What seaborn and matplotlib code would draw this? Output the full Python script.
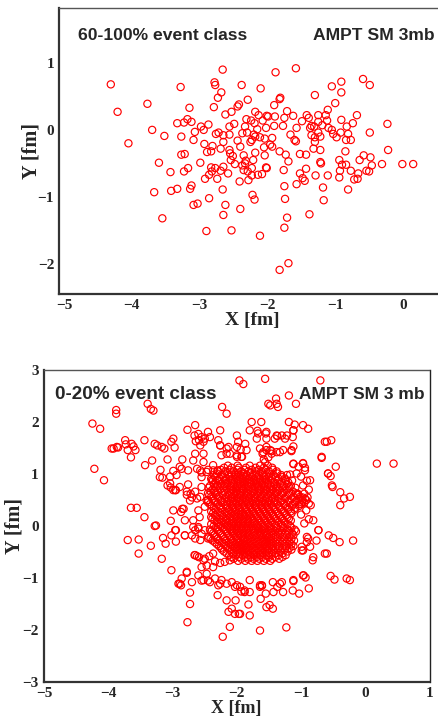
import numpy as np
import pandas as pd
import matplotlib
matplotlib.use("Agg")
import matplotlib.pyplot as plt
import seaborn as sns
from matplotlib.ticker import MultipleLocator

# ---- data: participant positions (x, y) in fm ----
peripheral_pts = [
    (-4.31, 0.68), (-4.21, 0.27), (-4.05, -0.20), (-3.77, 0.39), (-3.70, 0.00), (-3.52, -0.09),
    (-3.60, -0.49), (-3.43, -0.63), (-3.67, -0.93), (-3.55, -1.32), (-3.42, -0.91), (-3.33, -0.88),
    (-3.28, 0.64), (-3.15, 0.33), (-3.33, 0.10), (-3.27, -0.10), (-3.23, 0.11), (-3.18, 0.16),
    (-3.12, 0.12), (-3.07, -0.03), (-3.09, -0.15), (-2.98, 0.05), (-2.94, 0.00), (-2.87, 0.08),
    (-3.27, -0.37), (-3.22, -0.36), (-3.23, -0.62), (-3.17, -0.57), (-2.99, -0.49), (-3.12, -0.83),
    (-3.14, -0.88), (-3.09, -1.12), (-3.03, -1.10), (-2.86, -1.02), (-2.92, -0.73), (-2.86, -0.67),
    (-2.83, -0.56), (-2.82, -0.62), (-2.74, -0.73), (-2.77, -0.57), (-2.69, -0.61), (-2.65, -0.55),
    (-2.58, -0.65), (-2.66, -0.89), (-2.62, -1.12), (-2.65, -1.27), (-2.90, -1.51), (-2.53, -1.50),
    (-2.40, -1.18), (-2.41, -0.77), (-2.28, -0.75), (-2.29, -0.62), (-2.35, -0.60), (-2.33, -0.50),
    (-2.23, -0.57), (-2.22, -0.97), (-2.19, -1.04), (-2.11, -1.58), (-2.66, 0.90), (-2.78, 0.71),
    (-2.77, 0.67), (-2.68, 0.56), (-2.73, 0.48), (-2.79, 0.34), (-2.38, 0.67), (-2.10, 0.62),
    (-2.29, 0.45), (-2.42, 0.38), (-2.44, 0.35), (-2.53, 0.27), (-2.62, 0.23), (-2.49, 0.09),
    (-2.56, 0.05), (-2.76, -0.06), (-2.72, -0.04), (-2.65, -0.08), (-2.56, -0.07), (-2.65, -0.18),
    (-2.81, -0.24), (-2.93, -0.21), (-2.83, -0.32), (-2.89, -0.33), (-2.69, -0.28), (-2.56, -0.30),
    (-2.55, -0.35), (-2.51, -0.39), (-2.54, -0.45), (-2.48, -0.51), (-2.40, -0.25), (-2.44, -0.16),
    (-2.35, -0.38), (-2.30, -0.04), (-2.33, 0.05), (-2.37, -0.05), (-2.31, 0.16), (-2.24, 0.14),
    (-2.18, 0.27), (-2.13, 0.22), (-2.19, 0.10), (-2.15, 0.01), (-2.20, -0.07), (-2.23, -0.15),
    (-2.25, -0.18), (-2.18, -0.10), (-2.11, -0.11), (-2.18, -0.34), (-2.21, -0.45), (-2.05, -0.26),
    (-2.04, -0.38), (-2.02, -0.56), (-2.14, -0.67), (-2.08, -0.66), (-2.01, 0.21), (-2.02, 0.03),
    (-2.04, -0.13), (-2.07, 0.14), (-2.37, -0.53), (-2.32, -0.46), (-2.23, -0.68),
    (-1.88, 0.86), (-1.58, 0.92), (-0.59, 0.76), (-0.49, 0.67), (-0.91, 0.72), (-0.91, 0.56),
    (-1.05, 0.65), (-1.30, 0.52), (-1.81, 0.48), (-1.82, 0.46), (-1.90, 0.37), (-1.71, 0.28),
    (-1.75, 0.18), (-1.99, 0.20), (-1.89, 0.20), (-1.90, 0.06), (-1.77, 0.06), (-1.62, 0.21),
    (-1.57, 0.03), (-1.49, 0.13), (-1.42, 0.22), (-1.39, 0.18), (-1.25, 0.22), (-1.11, 0.30),
    (-1.00, 0.40), (-1.14, 0.22), (-1.12, 0.14), (-1.25, 0.12), (-1.35, 0.06), (-1.37, 0.03),
    (-1.31, 0.05), (-1.19, 0.07), (-1.10, 0.03), (-1.25, -0.04), (-1.35, -0.08), (-1.30, -0.11),
    (-1.22, -0.10), (-1.30, -0.18), (-1.32, -0.28), (-1.22, -0.30), (-1.05, 0.00), (-1.03, -0.06),
    (-0.98, -0.11), (-0.91, 0.15), (-0.83, 0.05), (-0.74, 0.10), (-0.68, 0.22), (-0.92, -0.04),
    (-0.81, -0.06), (-0.77, -0.15), (-0.84, -0.15), (-0.85, -0.32), (-0.49, -0.04), (-0.23, 0.09),
    (-0.22, -0.30), (-1.66, -0.07), (-1.60, -0.15), (-1.58, -0.17), (-1.93, -0.12), (-1.96, -0.22),
    (-1.93, -0.25), (-1.82, -0.32), (-1.73, -0.37), (-1.69, -0.47), (-1.52, -0.36), (-1.43, -0.37),
    (-2.01, -0.57), (-1.76, -0.60), (-1.52, -0.65), (-1.43, -0.58), (-1.48, -0.72), (-1.45, -0.76),
    (-1.57, -0.81), (-1.75, -0.84), (-1.74, -1.03), (-1.29, -0.68), (-1.22, -0.48), (-1.21, -0.50),
    (-1.11, -0.68), (-1.18, -0.86), (-1.17, -1.05), (-1.38, -1.26), (-1.71, -1.31), (-1.75, -1.46),
    (-0.94, -0.45), (-0.90, -0.52), (-0.84, -0.52), (-0.93, -0.61), (-0.77, -0.61), (-0.94, -0.71),
    (-0.72, -0.74), (-0.67, -0.73), (-0.64, -0.45), (-0.58, -0.38), (-0.48, -0.41), (-0.46, -0.53),
    (-0.54, -0.61), (-0.50, -0.62), (-0.66, -0.65), (-0.31, -0.51), (-0.81, -0.89), (-0.01, -0.51),
    (0.15, -0.51), (-1.69, -1.99), (-1.82, -2.09),
]

central_outer_pts = [
    (-1.96, 2.80), (-1.90, 2.73), (-3.39, 2.35), (-3.34, 2.25), (-3.30, 2.22), (-3.88, 2.23),
    (-3.88, 2.16), (-4.25, 1.97), (-4.13, 1.87), (-2.23, 2.29), (-2.16, 2.16), (-2.65, 1.94),
    (-2.77, 1.85), (-2.66, 1.74), (-2.60, 1.77), (-2.55, 1.71), (-2.59, 1.65), (-2.52, 1.62),
    (-2.45, 1.81), (-2.42, 1.71), (-2.50, 1.68), (-2.64, 1.63), (-2.57, 1.55), (-2.29, 1.65),
    (-2.26, 1.55), (-2.16, 1.49), (-2.16, 1.39), (-2.00, 1.74), (-1.98, 1.62), (-1.94, 1.47),
    (-2.00, 1.36), (-1.92, 1.33), (-2.99, 1.68), (-3.02, 1.62), (-2.97, 1.51), (-3.28, 1.58),
    (-3.24, 1.55), (-3.13, 1.49), (-3.17, 1.52), (-3.44, 1.65), (-3.74, 1.65), (-3.73, 1.57),
    (-3.70, 1.46), (-3.65, 1.32), (-3.61, 1.53), (-3.58, 1.46), (-3.64, 1.58), (-3.85, 1.51),
    (-3.92, 1.49), (-3.95, 1.49), (-3.87, 1.52), (-4.22, 1.10), (-4.07, 0.88), (-3.32, 1.26),
    (-3.43, 1.17), (-3.08, 1.28), (-2.85, 1.28), (-2.86, 1.10), (-3.19, 1.08), (-3.20, 0.94),
    (-3.16, 0.93), (-3.04, 0.95), (-3.08, 0.78), (-3.03, 0.74), (-2.99, 0.69), (-2.95, 0.69),
    (-2.99, 1.06), (-2.62, 1.10), (-2.55, 1.03), (-2.45, 1.08), (-2.55, 0.94), (-2.39, 0.88),
    (-2.76, 0.80), (-2.72, 0.62), (-2.70, 0.55), (-2.62, 0.53), (-2.78, 0.60), (-3.65, 0.35),
    (-3.56, 0.35), (-3.44, 0.17), (-3.26, 0.01), (-2.85, 0.33), (-2.87, 0.27), (-3.03, 0.10),
    (-2.58, 0.17), (-2.68, -0.02), (-2.60, -0.02), (-2.30, 1.07), (-2.35, 0.68), (-2.45, 0.50),
    (-2.50, 0.37), (-2.40, 0.17), (-2.29, -0.02),
    (-1.56, 2.83), (-0.70, 2.80), (-1.19, 2.51), (-1.39, 2.45), (-1.38, 2.35), (-1.51, 2.35),
    (-1.48, 2.32), (-1.36, 2.29), (-1.08, 2.35), (-1.77, 2.00), (-1.62, 2.00), (-1.80, 1.84),
    (-1.68, 1.83), (-1.55, 1.78), (-1.54, 1.68), (-1.41, 1.68), (-1.37, 1.73), (-1.30, 1.74),
    (-1.25, 1.68), (-1.19, 2.00), (-1.12, 1.84), (-1.10, 1.95), (-0.97, 1.94), (-0.89, 1.87),
    (-1.13, 1.71), (-0.63, 1.62), (-0.53, 1.65), (-0.68, 1.31), (-0.46, 1.14), (0.18, 1.20),
    (0.44, 1.20), (-1.12, 1.53), (-1.15, 1.44), (-1.64, 1.49), (-1.54, 1.46), (-1.46, 1.44),
    (-1.33, 1.42), (-1.60, 1.39), (-1.51, 1.32), (-1.58, 1.28), (-1.56, 1.23), (-0.58, 1.01),
    (-0.54, 0.96), (-0.52, 0.78), (-0.51, 0.75), (-0.39, 0.65), (-0.33, 0.53), (-0.24, 0.56),
    (-0.39, 0.40), (-0.97, 1.21), (-0.94, 1.12), (-1.04, 1.14), (-1.12, 1.19), (-1.17, 0.99),
    (-1.00, 0.95), (-0.91, 0.87), (-0.97, 0.78), (-0.88, 0.70), (-1.05, 0.62), (-0.90, 0.55),
    (-0.95, 0.45), (-0.85, 0.40), (-0.92, 0.30), (-1.00, 0.22), (-0.88, 0.13), (-0.95, 0.05),
    (-0.73, -0.08), (-0.57, -0.18), (-0.50, -0.23), (-0.40, -0.31), (-0.19, -0.28), (-0.63, -0.53),
    (-0.60, -0.53), (-0.82, -0.66), (-0.99, -0.40), (-0.99, -0.47), (-0.89, -0.24), (-0.91, -0.31),
    (-0.76, -0.28), (-0.54, -0.96), (-0.48, -1.03), (-0.29, -1.01), (-0.24, -1.04), (-0.96, -0.95),
    (-0.93, -0.99), (-0.88, -1.20), (-1.03, -1.30), (-1.13, -1.24), (-1.28, -1.27), (-1.43, -1.27),
    (-1.55, -1.30), (-1.64, -1.14), (-1.61, -1.15), (-1.80, -1.27), (-1.88, -1.27), (-1.93, -1.26),
    (-1.12, -1.06), (-1.30, -1.08), (-1.37, -1.17), (-1.44, -1.08), (-1.64, -1.17), (-1.63, -1.40),
    (-1.82, -1.51), (-1.54, -1.56), (-1.49, -1.52), (-1.44, -1.59), (-1.80, -1.72), (-1.95, -1.69),
    (-1.64, -2.01), (-1.23, -1.95),
    (-3.28, 0.00), (-3.70, -0.27), (-3.53, -0.26), (-3.53, -0.53), (-3.34, -0.38), (-3.15, -0.23),
    (-3.11, -0.34), (-3.02, -0.18), (-2.95, -0.30), (-2.95, -0.08), (-3.17, -0.63), (-3.02, -0.85),
    (-2.81, -0.18), (-2.78, -0.90), (-2.86, -1.01), (-2.89, -1.11), (-2.87, -1.14), (-2.70, -1.08),
    (-2.73, -1.28), (-2.73, -1.50), (-2.77, -1.85), (-2.70, -0.18), (-2.65, -0.24), (-2.60, -0.05),
    (-2.55, -0.15), (-2.45, -0.24), (-2.50, -0.08), (-2.66, -0.56), (-2.62, -0.58), (-2.59, -0.60),
    (-2.50, -0.63), (-2.43, -0.58), (-2.37, -0.53), (-2.55, -0.79), (-2.47, -0.76), (-2.34, -0.68),
    (-2.26, -0.71), (-2.19, -0.69), (-2.11, -0.66), (-2.60, -0.95), (-2.55, -1.05), (-2.45, -1.05),
    (-2.42, -1.08), (-2.34, -1.01), (-2.29, -1.14), (-2.24, -1.04), (-2.16, -1.11), (-2.08, -1.08),
    (-2.03, -1.17), (-1.95, -1.17), (-1.88, -1.24), (-2.30, -1.33), (-2.16, -1.43), (-2.02, -1.43),
    (-2.13, -1.65), (-2.08, -1.59), (-2.03, -1.69), (-1.97, -1.69), (-2.11, -1.94), (-2.22, -2.13),
    (-2.26, 1.84), (-1.67, 1.78), (-1.54, 1.81), (-1.69, 1.68), (-1.38, 1.74), (-1.22, 1.74),
    (-1.12, 1.84), (-1.48, 1.46), (-1.59, 1.42), (-1.54, 1.52), (-1.46, 1.39), (-1.38, 1.42),
    (-1.28, 1.46), (-1.15, 1.46), (-2.26, 1.55), (-2.13, 1.52), (-2.00, 1.52), (-1.87, 1.58),
    (-1.85, 1.46), (-1.93, 1.33), (-2.11, 1.39), (-2.24, 1.36), (-2.00, 1.33), (-2.52, 1.39),
    (-2.65, 1.39), (-2.68, 1.26), (-2.52, 1.23), (-2.37, 1.17), (-2.57, 1.07), (-2.76, 1.07),
    (-2.89, 1.14), (-2.94, 0.98), (-2.37, 1.07), (-2.47, 1.04), (-2.29, 0.88), (-3.04, 0.82),
    (-2.96, 0.69), (-2.89, 0.75), (-2.78, 0.66), (-2.65, 0.66), (-2.55, 0.75), (-1.12, 1.20),
    (-0.97, 1.20), (-0.94, 1.07), (-1.07, 1.01), (-1.22, 0.98), (-0.86, 0.88), (-0.68, 1.33),
    (-0.60, 1.62), (-0.58, 1.01), (-1.05, 0.60), (-0.98, 0.55), (-0.92, 0.50), (-0.88, 0.43),
    (-1.00, 0.42), (-0.95, 0.62), (-0.81, 0.11), (-0.73, -0.08), (-0.91, -0.21), (-0.86, -0.40),
    (-0.97, -0.47), (-0.81, -0.60), (-2.65, -0.56), (-2.52, -0.66), (-2.37, -0.79), (-2.47, -0.92),
    (-2.78, -0.88), (-2.91, -1.11), (-2.52, -1.04), (-2.26, -1.11), (-2.00, -1.14), (-1.80, -1.04),
    (-1.61, -1.14), (-1.33, -1.11), (-1.12, -1.04), (-0.97, -0.95), (-2.99, 0.30), (-2.83, 0.33),
    (-2.81, 0.11), (-2.96, -0.08), (-2.81, -0.18), (-2.65, -0.08), (-2.57, -0.27), (-2.68, 0.11),
    (-2.60, 0.30), (-2.73, 0.49), (-2.57, 0.56),
]

# dense core of the 0-20% event: rows of (y, [x positions]), two staggered layers
central_core_rows = [
    (1.12, [-2.20, -2.08, -1.97, -1.86, -1.71, -1.58, -1.45]),
    (1.05, [-2.30, -2.18, -2.05, -1.93, -1.82, -1.70, -1.62, -1.50, -1.38]),
    (0.98, [-2.36, -2.24, -2.13, -2.02, -1.94, -1.85, -1.76, -1.66, -1.55, -1.43, -1.31]),
    (0.91, [-2.40, -2.27, -2.17, -2.08, -1.99, -1.90, -1.81, -1.73, -1.64, -1.55, -1.46, -1.35, -1.25]),
    (0.84, [-2.33, -2.22, -2.13, -2.04, -1.95, -1.87, -1.78, -1.69, -1.60, -1.51, -1.42, -1.30, -1.20]),
    (0.77, [-2.42, -2.30, -2.19, -2.09, -2.00, -1.92, -1.83, -1.74, -1.66, -1.57, -1.47, -1.38, -1.27, -1.16]),
    (0.70, [-2.38, -2.26, -2.15, -2.06, -1.97, -1.89, -1.80, -1.71, -1.62, -1.53, -1.44, -1.34, -1.22]),
    (0.63, [-2.45, -2.33, -2.22, -2.11, -2.02, -1.94, -1.85, -1.76, -1.67, -1.58, -1.49, -1.40, -1.29, -1.18, -1.08]),
    (0.56, [-2.40, -2.28, -2.17, -2.08, -1.99, -1.90, -1.81, -1.72, -1.63, -1.54, -1.45, -1.36, -1.24, -1.12, -1.02]),
    (0.49, [-2.47, -2.35, -2.24, -2.13, -2.04, -1.95, -1.86, -1.77, -1.68, -1.59, -1.50, -1.41, -1.31, -1.19, -1.07, -0.98]),
    (0.42, [-2.42, -2.30, -2.19, -2.10, -2.01, -1.92, -1.83, -1.74, -1.65, -1.56, -1.47, -1.37, -1.26, -1.13, -1.03]),
    (0.35, [-2.36, -2.25, -2.15, -2.06, -1.97, -1.88, -1.79, -1.70, -1.61, -1.52, -1.43, -1.33, -1.21, -1.09]),
    (0.28, [-2.40, -2.29, -2.19, -2.10, -2.01, -1.93, -1.84, -1.75, -1.66, -1.57, -1.48, -1.38, -1.27, -1.16]),
    (0.21, [-2.34, -2.23, -2.13, -2.04, -1.96, -1.88, -1.80, -1.71, -1.62, -1.53, -1.44, -1.34, -1.23]),
    (0.14, [-2.38, -2.27, -2.17, -2.08, -2.00, -1.92, -1.84, -1.76, -1.67, -1.58, -1.49, -1.40, -1.30, -1.19]),
    (0.07, [-2.31, -2.21, -2.12, -2.04, -1.96, -1.88, -1.80, -1.72, -1.63, -1.54, -1.45, -1.35, -1.25]),
    (0.00, [-2.36, -2.25, -2.15, -2.07, -1.99, -1.91, -1.83, -1.75, -1.67, -1.58, -1.49, -1.39, -1.29, -1.17]),
    (-0.07, [-2.42, -2.30, -2.19, -2.10, -2.02, -1.94, -1.86, -1.78, -1.70, -1.61, -1.52, -1.43, -1.33, -1.21, -1.10]),
    (-0.14, [-2.37, -2.25, -2.15, -2.06, -1.98, -1.90, -1.82, -1.73, -1.64, -1.55, -1.46, -1.36, -1.25, -1.14]),
    (-0.21, [-2.44, -2.32, -2.21, -2.11, -2.02, -1.93, -1.85, -1.77, -1.68, -1.59, -1.50, -1.40, -1.29, -1.18]),
    (-0.28, [-2.38, -2.27, -2.17, -2.07, -1.98, -1.89, -1.80, -1.71, -1.62, -1.53, -1.44, -1.33, -1.22, -1.11]),
    (-0.35, [-2.31, -2.20, -2.10, -2.01, -1.92, -1.83, -1.74, -1.65, -1.56, -1.47, -1.37, -1.26, -1.15]),
    (-0.42, [-2.25, -2.14, -2.04, -1.95, -1.86, -1.77, -1.68, -1.59, -1.50, -1.40, -1.29, -1.18]),
    (-0.49, [-2.20, -2.08, -1.98, -1.89, -1.80, -1.71, -1.62, -1.53, -1.43, -1.32, -1.21]),
    (-0.56, [-2.12, -2.01, -1.91, -1.82, -1.73, -1.64, -1.55, -1.46, -1.35, -1.24]),
    (-0.63, [-2.05, -1.93, -1.83, -1.74, -1.65, -1.55, -1.45, -1.34]),
    (1.16, [-2.14, -1.99, -1.80, -1.64, -1.52]),
    (1.08, [-2.25, -2.11, -1.99, -1.88, -1.77, -1.66, -1.55, -1.44]),
    (1.01, [-2.31, -2.19, -2.08, -1.98, -1.89, -1.80, -1.71, -1.60, -1.49, -1.37]),
    (0.945, [-2.34, -2.21, -2.12, -2.03, -1.95, -1.86, -1.77, -1.68, -1.59, -1.50, -1.40, -1.30]),
    (0.875, [-2.37, -2.28, -2.18, -2.09, -1.99, -1.91, -1.83, -1.74, -1.65, -1.56, -1.47, -1.36, -1.24, -1.14]),
    (0.805, [-2.36, -2.25, -2.16, -2.05, -1.96, -1.88, -1.79, -1.70, -1.61, -1.52, -1.42, -1.33, -1.22]),
    (0.735, [-2.44, -2.33, -2.21, -2.11, -2.02, -1.93, -1.85, -1.76, -1.67, -1.58, -1.49, -1.39, -1.29, -1.18, -1.09]),
    (0.665, [-2.41, -2.30, -2.19, -2.09, -2.00, -1.91, -1.82, -1.73, -1.64, -1.55, -1.46, -1.37, -1.26, -1.13]),
    (0.595, [-2.43, -2.32, -2.22, -2.13, -2.04, -1.95, -1.86, -1.78, -1.69, -1.60, -1.51, -1.41, -1.31, -1.19, -1.06]),
    (0.525, [-2.38, -2.29, -2.19, -2.09, -2.00, -1.91, -1.82, -1.73, -1.64, -1.55, -1.46, -1.36, -1.25, -1.15, -1.03, -0.94]),
    (0.455, [-2.45, -2.34, -2.24, -2.15, -2.06, -1.97, -1.88, -1.79, -1.70, -1.61, -1.52, -1.42, -1.32, -1.20, -1.09, -0.99]),
    (0.385, [-2.39, -2.27, -2.17, -2.08, -1.99, -1.90, -1.81, -1.72, -1.63, -1.54, -1.45, -1.35, -1.24, -1.14, -1.03]),
    (0.315, [-2.33, -2.23, -2.12, -2.03, -1.95, -1.86, -1.77, -1.68, -1.59, -1.50, -1.41, -1.31, -1.20, -1.10]),
    (0.245, [-2.37, -2.26, -2.16, -2.07, -1.98, -1.90, -1.81, -1.73, -1.64, -1.55, -1.46, -1.36, -1.26, -1.15]),
    (0.175, [-2.32, -2.21, -2.11, -2.02, -1.94, -1.86, -1.78, -1.69, -1.60, -1.51, -1.42, -1.32, -1.21]),
    (0.105, [-2.35, -2.24, -2.15, -2.06, -1.98, -1.90, -1.82, -1.74, -1.65, -1.56, -1.47, -1.37, -1.27, -1.16]),
    (0.035, [-2.40, -2.28, -2.18, -2.09, -2.01, -1.93, -1.85, -1.77, -1.69, -1.60, -1.51, -1.41, -1.31, -1.21]),
    (-0.035, [-2.33, -2.22, -2.13, -2.05, -1.97, -1.89, -1.81, -1.73, -1.65, -1.56, -1.47, -1.38, -1.27, -1.15]),
    (-0.105, [-2.40, -2.28, -2.17, -2.08, -2.00, -1.92, -1.84, -1.76, -1.67, -1.58, -1.49, -1.40, -1.30, -1.19, -1.08]),
    (-0.175, [-2.35, -2.23, -2.13, -2.04, -1.96, -1.88, -1.80, -1.71, -1.62, -1.53, -1.43, -1.33, -1.22, -1.12]),
    (-0.245, [-2.41, -2.30, -2.19, -2.09, -2.00, -1.91, -1.83, -1.74, -1.65, -1.56, -1.47, -1.37, -1.26, -1.15]),
    (-0.315, [-2.34, -2.23, -2.13, -2.04, -1.95, -1.86, -1.77, -1.68, -1.59, -1.50, -1.40, -1.29, -1.18]),
    (-0.385, [-2.28, -2.17, -2.07, -1.98, -1.89, -1.80, -1.71, -1.62, -1.53, -1.44, -1.34, -1.23, -1.12]),
    (-0.455, [-2.23, -2.11, -2.01, -1.92, -1.83, -1.74, -1.65, -1.56, -1.46, -1.36, -1.25, -1.15]),
    (-0.525, [-2.16, -2.05, -1.95, -1.86, -1.77, -1.68, -1.59, -1.50, -1.40, -1.29]),
    (-0.595, [-2.09, -1.97, -1.87, -1.78, -1.69, -1.60, -1.50, -1.40, -1.29]),
    (-0.67, [-1.98, -1.87, -1.77, -1.68, -1.58, -1.48]),
]

df_top = pd.DataFrame(peripheral_pts, columns=["x", "y"])
core = [(x, y) for y, xs in central_core_rows for x in xs]
df_bot = pd.DataFrame(central_outer_pts + core, columns=["x", "y"])

sns.set_style("white")
plt.rcParams["font.family"] = ["Liberation Serif", "DejaVu Serif"]

W, H = 438, 721
fig = plt.figure(figsize=(W / 100, H / 100), dpi=100)


def px_axes(left, top, right, bottom):
    return fig.add_axes([left / W, 1 - bottom / H, (right - left) / W, (bottom - top) / H])


ax1 = px_axes(59, 8, 438, 294)
ax2 = px_axes(43.5, 370, 429.5, 682)

for ax, df in ((ax1, df_top), (ax2, df_bot)):
    sns.scatterplot(data=df, x="x", y="y", ax=ax, color="red", edgecolor="red",
                    s=27, linewidth=0.85, legend=False, zorder=3)
    ax.collections[-1].set_facecolor("none")

ax1.set_xlim(-5.074, 0.516)
ax1.set_ylim(-2.45, 1.82)
ax2.set_xlim(-5.012, 1.0)
ax2.set_ylim(-3, 3)

for ax in (ax1, ax2):
    ax.xaxis.set_major_locator(MultipleLocator(1))
    ax.xaxis.set_minor_locator(MultipleLocator(0.2))
    ax.yaxis.set_major_locator(MultipleLocator(1))
    ax.yaxis.set_minor_locator(MultipleLocator(0.2))
    ax.tick_params(which="both", direction="in", top=False, right=False,
                   color="#333333", width=1.1)
    ax.tick_params(which="major", length=6.5, labelsize=11, pad=3.5)
    ax.tick_params(which="minor", length=3.6)
    for lab in ax.get_xticklabels() + ax.get_yticklabels():
        lab.set_fontweight("bold")
    ax.spines["left"].set_linewidth(1.6)
    ax.spines["bottom"].set_linewidth(1.6)
    ax.spines["left"].set_color("#333333")
    ax.spines["bottom"].set_color("#333333")
    ax.spines["top"].set_linewidth(1.0)
    ax.spines["top"].set_color("#555555")
    ax.spines["right"].set_linewidth(1.0)
    ax.spines["right"].set_color("#222222")
    ax.set_ylabel("Y [fm]", fontsize=14.5, fontweight="bold")

ax1.set_xlabel("X [fm]", fontsize=14, fontweight="bold")
ax2.set_xlabel("X [fm]", fontsize=13, fontweight="bold")
ax1.spines["right"].set_visible(False)
ax1.xaxis.set_label_coords(0.509, -0.063)
ax1.yaxis.set_label_coords(-0.045, 0.5)
ax2.xaxis.set_label_coords(0.499, -0.059)
ax2.yaxis.set_label_coords(-0.048, 0.5)

sans = ["Liberation Sans", "DejaVu Sans"]
fig.text(78 / W, 1 - 40.5 / H, "60-100% event class", ha="left", va="baseline",
         fontsize=12.6, fontweight="bold", family=sans)
fig.text(435 / W, 1 - 40.5 / H, "AMPT SM 3mb", ha="right", va="baseline",
         fontsize=12.6, fontweight="bold", family=sans)
fig.text(55 / W, 1 - 399 / H, "0-20% event class", ha="left", va="baseline",
         fontsize=13.6, fontweight="bold", family=sans)
fig.text(425 / W, 1 - 399 / H, "AMPT SM 3 mb", ha="right", va="baseline",
         fontsize=12.5, fontweight="bold", family=sans)

fig.savefig("out.png", dpi=100)
plt.close(fig)
